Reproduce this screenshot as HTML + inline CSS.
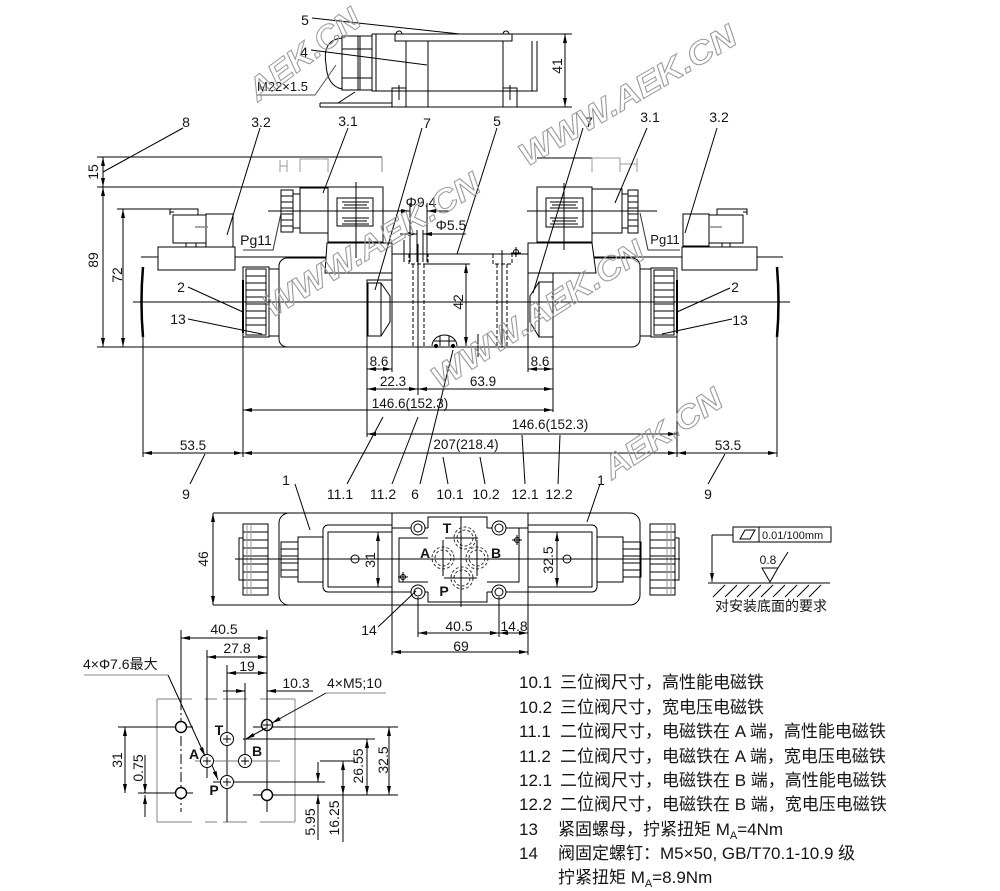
<!DOCTYPE html>
<html><head><meta charset="utf-8">
<style>
html,body{margin:0;padding:0;background:#fff;}
svg{display:block;}
text{font-family:"Liberation Sans","Noto Sans CJK SC",sans-serif;fill:#141414;stroke:none;}
.wm{font-family:"Liberation Sans",sans-serif;font-weight:bold;font-style:italic;fill:none;stroke:#9a9a9a;stroke-width:1;}
</style></head><body>
<svg width="1000" height="891" viewBox="0 0 1000 891" xmlns="http://www.w3.org/2000/svg">
<defs>
<marker id="a" viewBox="0 0 9 4" refX="9" refY="2" markerWidth="9" markerHeight="4" markerUnits="userSpaceOnUse" orient="auto-start-reverse"><path d="M0,0 L9,2 L0,4 z" fill="#000"/></marker>
</defs>

<!-- ================= TOP SMALL VIEW ================= -->
<g stroke="#000" stroke-width="1" fill="none">
<line x1="312" y1="18" x2="497" y2="38"/>
<line x1="311" y1="50" x2="427" y2="65"/>
<rect x="395" y="34" width="117" height="7" fill="#fff"/>
<path d="M396,34 a3,3 0 0 1 6,0 M503,34 a3,3 0 0 1 6,0"/>
<path d="M372,34 H572 M372,34 V91 H537 V41 M376,34 V91 M532,41 V91"/>
<path d="M320,107 H572 M320,103 H392 M320,103 V107"/>
<path d="M406,41 V107 M428,41 V107 M503,41 V107"/>
<rect x="392" y="88" width="14" height="19"/>
<rect x="503" y="88" width="14" height="19"/>
<path d="M399,85 V100 M395,91 H403 M510,85 V100 M506,91 H514"/>
<rect x="342" y="36" width="30" height="54"/>
<path d="M358,36 V90 M360,36 V90 M342,49 H372 M342,78 H372"/>
<path d="M342,38 Q322,40 326,64 Q327,86 342,89"/>
<line x1="355" y1="92" x2="338" y2="103"/>
<line x1="565" y1="34" x2="565" y2="107" marker-start="url(#a)" marker-end="url(#a)"/>
<path d="M257,95 H315 L336,65" stroke="#555"/>
</g>
<text x="305" y="25" font-size="14" text-anchor="middle">5</text>
<text x="304" y="57" font-size="14" text-anchor="middle">4</text>
<text x="257" y="91" font-size="13">M22×1.5</text>
<text transform="translate(562,66) rotate(-90)" font-size="14" text-anchor="middle">41</text>

<!-- ================= SIDE VIEW ================= -->
<g stroke="#000" stroke-width="1" fill="none">
<!-- top reference lines -->
<line x1="97" y1="157" x2="382" y2="157"/>
<line x1="97" y1="187" x2="328" y2="187"/>
<line x1="537" y1="158" x2="592" y2="158"/>
<path d="M382,157 V172" stroke="#888"/>
<path d="M280,172 V160 M280,166 H287 M287,160 V172 M300,172 V159 H328 V172" stroke="#999"/>
<path d="M592,158 V172 M592,158 H620 V172 M620,164 H637 M637,158 V172" stroke="#999"/>
<!-- left dims -->
<line x1="103" y1="157" x2="103" y2="187" marker-start="url(#a)" marker-end="url(#a)"/>
<line x1="103" y1="187" x2="103" y2="347" marker-start="url(#a)" marker-end="url(#a)"/>
<line x1="117" y1="209" x2="170" y2="209"/>
<line x1="123" y1="209" x2="123" y2="347" marker-start="url(#a)" marker-end="url(#a)"/>
<line x1="97" y1="347" x2="290" y2="347"/>
<!-- horizontal line y257 -->
<line x1="141" y1="257" x2="158" y2="257"/>
<line x1="235" y1="257" x2="783" y2="257"/>
<!-- 3.2 left -->
<rect x="158" y="247" width="77" height="23" fill="#fff"/>
<rect x="173" y="215" width="33" height="28" fill="#fff"/>
<rect x="206" y="214" width="27" height="33" fill="#fff"/>
<path d="M186,243 V247 M196,243 V247"/>
<path d="M170,215 V209 H198 V215 M170,212 H174"/>
<path d="M195,227 H208" stroke="#888" stroke-width="1.5"/>
<!-- 3.2 right -->
<rect x="682" y="247" width="75" height="23" fill="#fff"/>
<rect x="683" y="214" width="26" height="32" fill="#fff"/>
<rect x="709" y="215" width="34" height="28" fill="#fff"/>
<path d="M722,243 V247 M730,243 V247"/>
<path d="M717,215 V209 H747 V215 M743,212 H747"/>
<path d="M708,227 H722" stroke="#888" stroke-width="1.5"/>

<!-- left housing -->
<rect x="279" y="258" width="113" height="89" rx="8" fill="#fff"/>
<!-- right housing -->
<rect x="528" y="258" width="112" height="89" rx="8" fill="#fff"/>
<!-- knurled nuts -->
<rect x="269" y="269" width="10" height="67" fill="#fff"/>
<rect x="243" y="267" width="26" height="70" fill="#fff"/>
<rect x="246" y="269" width="20" height="66"/>
<path d="M246,276 H266 M246,283 H266 M246,290 H266 M246,297 H266 M246,304 H266 M246,311 H266 M246,318 H266 M246,325 H266"/>
<line x1="243" y1="280" x2="243" y2="333" stroke-width="2"/>
<rect x="640" y="269" width="11" height="67" fill="#fff"/>
<rect x="651" y="268" width="26" height="69" fill="#fff"/>
<rect x="654" y="270" width="20" height="65"/>
<path d="M654,276 H674 M654,283 H674 M654,290 H674 M654,297 H674 M654,304 H674 M654,311 H674 M654,318 H674 M654,325 H674"/>
<line x1="677" y1="280" x2="677" y2="333" stroke-width="2"/>
<!-- manual overrides -->
<path d="M143,267 Q140,302 143,337" stroke-width="2.5"/>
<path d="M777,267 Q780,302 777,337" stroke-width="2.5"/>

<!-- coils left -->
<rect x="281" y="190" width="12" height="42" fill="#fff"/>
<path d="M281,196 H293 M281,202 H293 M281,208 H293 M281,214 H293 M281,220 H293 M281,226 H293"/>
<rect x="293" y="194" width="7" height="34"/>
<rect x="300" y="188" width="28" height="45" fill="#fff"/>
<rect x="328" y="187" width="55" height="55" fill="#fff"/>
<rect x="337" y="198" width="36" height="28"/>
<path d="M342,202 H369 M344,205 H367 M342,208 H369 M342,218 H369 M344,221 H367 M342,224 H369"/>
<path d="M327,243 H392 V273 H325 Z" fill="#fff"/>
<!-- coils right -->
<rect x="628" y="190" width="10" height="43" fill="#fff"/>
<path d="M628,196 H638 M628,202 H638 M628,208 H638 M628,214 H638 M628,220 H638 M628,226 H638"/>
<rect x="622" y="194" width="6" height="34"/>
<rect x="592" y="189" width="30" height="44" fill="#fff"/>
<rect x="537" y="187" width="55" height="55" fill="#fff"/>
<rect x="546" y="198" width="37" height="29"/>
<path d="M550,202 H578 M552,205 H576 M550,208 H578 M550,218 H578 M552,221 H576 M550,224 H578"/>
<path d="M528,243 H592 L596,273 H528 Z" fill="#fff"/>
<!-- coil center lines -->
<path d="M356,182 V258 M268,211 H400 M564,183 V250 M527,211 H657"/>

<!-- valve body -->
<rect x="392" y="254" width="136" height="93" fill="#fff"/>
<line x1="392" y1="254" x2="520" y2="254"/>
<circle cx="516" cy="252" r="2.5"/>
<path d="M516,247 V257 M511,253 H521"/>
<path d="M409,254 V264 H428 V254 M413,264 V347 M424,264 V347" stroke-dasharray="4,2"/>
<path d="M493,254 V264 H512 V254 M497,264 V347 M507,264 V347" stroke-dasharray="4,2"/>
<path d="M418,244 V395 M502,250 V347"/>
<line x1="427" y1="264" x2="470" y2="264"/>
<line x1="466" y1="264" x2="466" y2="346" marker-start="url(#a)" marker-end="url(#a)"/>
<path d="M432,346 A12.5,11 0 0 1 457,346 M440,336 V346 M449,336 V346 M434,341 H455"/>
<circle cx="436" cy="346" r="1.6" fill="#000"/>
<circle cx="453" cy="346" r="1.6" fill="#000"/>
<line x1="478" y1="334" x2="478" y2="357"/>
<!-- nut plates -->
<rect x="367" y="280" width="25" height="67" fill="#fff"/>
<rect x="368" y="283" width="13" height="53"/>
<path d="M381,283 L390,296 V322 L381,336"/>
<rect x="528" y="273" width="25" height="74" fill="#fff"/>
<rect x="539" y="282" width="14" height="55"/>
<path d="M539,282 L530,296 V322 L539,337"/>
<!-- phi dims -->
<path d="M410,203 V262 M427,203 V262 M417,230 V262 M423,230 V262 M404,240 V262"/>
<line x1="385" y1="211" x2="410" y2="211" marker-end="url(#a)"/>
<line x1="450" y1="211" x2="427" y2="211" marker-end="url(#a)"/>
<line x1="400" y1="234" x2="417" y2="234" marker-end="url(#a)"/>
<line x1="466" y1="234" x2="423" y2="234" marker-end="url(#a)"/>

<!-- center line -->
<line x1="133" y1="302" x2="790" y2="302"/>

<!-- extension lines -->
<path d="M143,337 V457 M243,333 V457 M677,333 V457 M777,337 V457 M367,347 V437 M553,337 V412 M392,347 V372 M528,347 V372"/>
<!-- bottom dims -->
<line x1="367" y1="369" x2="392" y2="369" marker-start="url(#a)" marker-end="url(#a)"/>
<line x1="528" y1="369" x2="553" y2="369" marker-start="url(#a)" marker-end="url(#a)"/>
<line x1="367" y1="389" x2="418" y2="389" marker-start="url(#a)" marker-end="url(#a)"/>
<line x1="418" y1="389" x2="553" y2="389" marker-start="url(#a)" marker-end="url(#a)"/>
<line x1="243" y1="410" x2="553" y2="410" marker-start="url(#a)" marker-end="url(#a)"/>
<line x1="367" y1="434" x2="677" y2="434" marker-start="url(#a)" marker-end="url(#a)"/>
<line x1="243" y1="453" x2="677" y2="453" marker-start="url(#a)" marker-end="url(#a)"/>
<line x1="143" y1="453" x2="243" y2="453" marker-start="url(#a)" marker-end="url(#a)"/>
<line x1="677" y1="453" x2="777" y2="453" marker-start="url(#a)" marker-end="url(#a)"/>

<!-- leaders top -->
<line x1="183" y1="128" x2="103" y2="172"/>
<line x1="260" y1="128" x2="227" y2="235"/>
<line x1="348" y1="128" x2="323" y2="193"/>
<line x1="422" y1="128" x2="375" y2="290"/>
<line x1="497" y1="128" x2="457" y2="254"/>
<line x1="583" y1="128" x2="533" y2="293"/>
<line x1="647" y1="128" x2="615" y2="203"/>
<line x1="717" y1="128" x2="685" y2="233"/>
<path d="M243,250 H273 L281,213" stroke="#333"/>
<path d="M680,250 H648 L640,213" stroke="#333"/>
<line x1="188" y1="287" x2="243" y2="312"/>
<line x1="188" y1="319" x2="262" y2="334"/>
<line x1="730" y1="288" x2="677" y2="312"/>
<line x1="732" y1="319" x2="662" y2="334"/>
<!-- leaders bottom -->
<line x1="190" y1="484" x2="205" y2="454"/>
<line x1="347" y1="484" x2="383" y2="417"/>
<line x1="392" y1="484" x2="418" y2="417"/>
<line x1="420" y1="484" x2="453" y2="350"/>
<line x1="448" y1="484" x2="443" y2="457"/>
<line x1="485" y1="484" x2="480" y2="457"/>
<line x1="525" y1="484" x2="522" y2="435"/>
<line x1="558" y1="484" x2="560" y2="435"/>
<line x1="708" y1="484" x2="725" y2="454"/>
</g>
<g font-size="14" text-anchor="middle">
<text x="186" y="127">8</text>
<text x="261" y="127">3.2</text>
<text x="348" y="126">3.1</text>
<text x="427" y="128">7</text>
<text x="497" y="126">5</text>
<text x="589" y="127">7</text>
<text x="650" y="122">3.1</text>
<text x="719" y="122">3.2</text>
<text x="421" y="207">Φ9.4</text>
<text x="451" y="230">Φ5.5</text>
<text x="256" y="245">Pg11</text>
<text x="665" y="244" font-size="13">Pg11</text>
<text x="181" y="292">2</text>
<text x="178" y="324">13</text>
<text x="735" y="292">2</text>
<text x="740" y="325">13</text>
<text x="379" y="366" font-size="13.5">8.6</text>
<text x="540" y="366" font-size="13.5">8.6</text>
<text x="393" y="386" font-size="13.5">22.3</text>
<text x="483" y="386" font-size="13.5">63.9</text>
<text x="410" y="408" font-size="13.5">146.6(152.3)</text>
<text x="550" y="429" font-size="13.5">146.6(152.3)</text>
<text x="466" y="449" font-size="13.5">207(218.4)</text>
<text x="193" y="450" font-size="13.5">53.5</text>
<text x="728" y="450" font-size="13.5">53.5</text>
<text x="186" y="499">9</text>
<text x="340" y="499">11.1</text>
<text x="383" y="499">11.2</text>
<text x="415" y="499">6</text>
<text x="450" y="499">10.1</text>
<text x="486" y="499">10.2</text>
<text x="525" y="499">12.1</text>
<text x="559" y="499">12.2</text>
<text x="708" y="499">9</text>
<text transform="translate(98,172) rotate(-90)">15</text>
<text transform="translate(98,260) rotate(-90)">89</text>
<text transform="translate(122,275) rotate(-90)">72</text>
<text transform="translate(463,302) rotate(-90)">42</text>
</g>

<!-- ================= FRONT VIEW ================= -->
<g stroke="#000" stroke-width="1" fill="none">
<path d="M213,513 H392 M213,605 H392"/>
<line x1="213" y1="513" x2="213" y2="605" marker-start="url(#a)" marker-end="url(#a)"/>
<path d="M392,513 H289 A10,10 0 0 0 279,523 V595 A10,10 0 0 0 289,605 H392"/>
<path d="M392,525 H328 A5,5 0 0 0 323,530 V587 A5,5 0 0 0 328,592 H392"/>
<path d="M392,532 H328 V587 H392"/>
<line x1="378" y1="532" x2="378" y2="587" marker-start="url(#a)" marker-end="url(#a)"/>
<circle cx="355" cy="559" r="4"/>
<rect x="298" y="537" width="25" height="45"/>
<rect x="281" y="542" width="17" height="35"/>
<path d="M281,549 H298 M281,556 H298 M281,563 H298 M281,570 H298"/>
<rect x="243" y="524" width="25" height="71" fill="#fff"/>
<path d="M243,532 H268 M243,540 H268 M243,548 H268 M243,556 H268 M243,564 H268 M243,572 H268 M243,580 H268 M243,588 H268"/>
<path d="M247,524 V595 M251,524 V595" stroke="#999"/>
<rect x="239" y="538" width="4" height="42"/>

<path d="M528,513 H630 A10,10 0 0 1 640,523 V595 A10,10 0 0 1 630,605 H528"/>
<path d="M528,525 H592 A5,5 0 0 1 597,530 V587 A5,5 0 0 1 592,592 H528"/>
<path d="M528,532 H592 V587 H528"/>
<line x1="557" y1="532" x2="557" y2="587" marker-start="url(#a)" marker-end="url(#a)"/>
<circle cx="567" cy="559" r="4"/>
<rect x="597" y="537" width="26" height="45"/>
<rect x="623" y="542" width="18" height="35"/>
<path d="M623,549 H641 M623,556 H641 M623,563 H641 M623,570 H641"/>
<rect x="650" y="524" width="25" height="71" fill="#fff"/>
<path d="M650,532 H675 M650,540 H675 M650,548 H675 M650,556 H675 M650,564 H675 M650,572 H675 M650,580 H675 M650,588 H675"/>
<path d="M671,524 V595 M667,524 V595" stroke="#999"/>
<rect x="675" y="538" width="4" height="42"/>

<rect x="392" y="513" width="136" height="92" fill="#fff"/>
<path d="M428,528 V517 H487 V528 M487,528 H519 V582 H487 M487,592 V602 H428 V592 M428,582 H399 V538 H428"/>
<path d="M392,528 H428 M487,528 H528 M392,592 H428 M487,592 H528"/>
<circle cx="418" cy="528" r="7" fill="#fff"/><circle cx="418" cy="528" r="4"/>
<circle cx="499" cy="528" r="7" fill="#fff"/><circle cx="499" cy="528" r="4"/>
<circle cx="418" cy="592" r="7" fill="#fff"/><circle cx="418" cy="592" r="4"/>
<circle cx="499" cy="592" r="7" fill="#fff"/><circle cx="499" cy="592" r="4"/>
<g stroke-dasharray="3,2" stroke="#333">
<circle cx="465" cy="538" r="11"/><circle cx="465" cy="538" r="8"/>
<circle cx="443" cy="558" r="11"/><circle cx="443" cy="558" r="8"/>
<circle cx="477" cy="558" r="11"/><circle cx="477" cy="558" r="8"/>
<circle cx="462" cy="578" r="11"/><circle cx="462" cy="578" r="8"/>
</g>
<path d="M461,517 V607 M443,540 V576 M477,540 V576 M445,538 H478 M444,578 H477"/>
<circle cx="403" cy="577" r="2.5"/><path d="M398,577 H408 M403,572 V582"/>
<circle cx="517" cy="540" r="2.5"/><path d="M512,540 H522 M517,535 V545"/>
<line x1="235" y1="559" x2="680" y2="559"/>
<path d="M418,597 V637 M499,597 V637 M392,605 V655 M528,605 V655"/>
<line x1="418" y1="633" x2="499" y2="633" marker-start="url(#a)" marker-end="url(#a)"/>
<line x1="499" y1="633" x2="528" y2="633" marker-start="url(#a)" marker-end="url(#a)"/>
<line x1="392" y1="652" x2="528" y2="652" marker-start="url(#a)" marker-end="url(#a)"/>
<line x1="378" y1="627" x2="416" y2="591"/>
<line x1="295" y1="484" x2="310" y2="530"/>
<line x1="600" y1="484" x2="587" y2="522"/>
</g>
<g font-size="14" text-anchor="middle">
<text x="286" y="485">1</text>
<text x="601" y="485">1</text>
<text transform="translate(208,559) rotate(-90)">46</text>
<text transform="translate(375,560) rotate(-90)">31</text>
<text transform="translate(553,560) rotate(-90)">32.5</text>
<text x="447" y="533" font-weight="bold">T</text>
<text x="425" y="558" font-weight="bold">A</text>
<text x="496" y="558" font-weight="bold">B</text>
<text x="444" y="596" font-weight="bold">P</text>
<text x="369" y="635">14</text>
<text x="459" y="631">40.5</text>
<text x="514" y="631">14.8</text>
<text x="461" y="651">69</text>
</g>

<!-- surface requirement -->
<g stroke="#000" stroke-width="1" fill="none">
<rect x="733" y="527" width="98" height="15"/>
<line x1="759" y1="527" x2="759" y2="542"/>
<path d="M740,539 L745,530 H755 L750,539 Z"/>
<path d="M733,535 H712"/>
<line x1="712" y1="535" x2="712" y2="582" marker-end="url(#a)"/>
<line x1="708" y1="583" x2="830" y2="583"/>
<path d="M713,597 L725,585 M725,597 L737,585 M737,597 L749,585 M749,597 L761,585 M761,597 L773,585 M773,597 L785,585 M785,597 L797,585 M797,597 L809,585 M809,597 L821,585"/>
<path d="M762,568 H778 L770,582 Z M778,568 L788,552"/>
</g>
<text x="762" y="539" font-size="11">0.01/100mm</text>
<text x="768" y="564" font-size="12" text-anchor="middle">0.8</text>
<text x="771" y="611" font-size="14" text-anchor="middle">对安装底面的要求</text>

<!-- ================= MOUNTING PATTERN ================= -->
<g stroke="#000" stroke-width="1" fill="none">
<path d="M157,699 V822 M295,699 V822" stroke="#999" stroke-width="1.2"/>
<path d="M157,699 H192 M205,699 H217 M223,699 H247 M260,699 H295 M157,822 H192 M205,822 H217 M223,822 H247 M260,822 H295" stroke="#999" stroke-width="1.2"/>
<path d="M181,630 V700 M267,630 V812 M207,650 V778 M227,665 V822 M245,683 V765"/>
<path d="M181,700 V812" stroke-dasharray="10,3,2,3"/>
<path d="M118,727 H193 M253,727 H398 M243,739 H375 M320,761 H355 M213,782 H325 M138,793 H193 M253,795 H398"/>
<path d="M195,761 H280" stroke="#777"/>
<circle cx="181" cy="727" r="5.5" stroke-width="1.4" fill="#fff"/>
<circle cx="181" cy="793" r="5.5" stroke-width="1.4" fill="#fff"/>
<circle cx="267" cy="725" r="5.5" stroke-width="1.4" fill="#fff"/>
<circle cx="267" cy="795" r="5.5" stroke-width="1.4" fill="#fff"/>
<circle cx="227" cy="739" r="6.5" fill="#fff"/>
<circle cx="207" cy="761" r="6.5" fill="#fff"/>
<circle cx="245" cy="761" r="6.5" fill="#fff"/>
<circle cx="227" cy="782" r="6.5" fill="#fff"/>
<path d="M227,735 V743 M223,739 H231 M207,757 V765 M203,761 H211 M245,757 V765 M241,761 H249 M227,778 V786 M223,782 H231 M267,721 V729 M263,725 H271"/>
<line x1="181" y1="638" x2="267" y2="638" marker-start="url(#a)" marker-end="url(#a)"/>
<line x1="207" y1="657" x2="267" y2="657" marker-start="url(#a)" marker-end="url(#a)"/>
<line x1="227" y1="673" x2="267" y2="673" marker-start="url(#a)" marker-end="url(#a)"/>
<line x1="223" y1="691" x2="245" y2="691" marker-end="url(#a)"/>
<line x1="313" y1="691" x2="267" y2="691" marker-end="url(#a)"/>
<line x1="125" y1="727" x2="125" y2="793" marker-start="url(#a)" marker-end="url(#a)"/>
<line x1="145" y1="755" x2="145" y2="793" marker-end="url(#a)"/>
<line x1="145" y1="817" x2="145" y2="795" marker-end="url(#a)"/>
<line x1="389" y1="727" x2="389" y2="795" marker-start="url(#a)" marker-end="url(#a)"/>
<line x1="367" y1="739" x2="367" y2="795" marker-start="url(#a)" marker-end="url(#a)"/>
<line x1="343" y1="761" x2="343" y2="795" marker-start="url(#a)" marker-end="url(#a)"/>
<line x1="343" y1="795" x2="343" y2="842"/>
<line x1="318" y1="762" x2="318" y2="782" marker-end="url(#a)"/>
<line x1="318" y1="840" x2="318" y2="795" marker-end="url(#a)"/>
<path d="M84,675 H168" stroke="#888"/>
<line x1="168" y1="675" x2="205" y2="756" marker-end="url(#a)"/>
<line x1="212" y1="765" x2="218" y2="780" marker-end="url(#a)"/>
<path d="M326,693 H386" stroke="#888"/>
<line x1="326" y1="693" x2="272" y2="723" marker-end="url(#a)"/>
<line x1="266" y1="728" x2="246" y2="739" marker-end="url(#a)"/>
</g>
<g font-size="14" text-anchor="middle">
<text x="224" y="634">40.5</text>
<text x="237" y="653">27.8</text>
<text x="247" y="671">19</text>
<text x="296" y="688">10.3</text>
<text x="219" y="735" font-weight="bold">T</text>
<text x="194" y="759" font-weight="bold">A</text>
<text x="257" y="756" font-weight="bold">B</text>
<text x="214" y="795" font-weight="bold">P</text>
<text transform="translate(122,760) rotate(-90)">31</text>
<text transform="translate(143,768) rotate(-90)">0.75</text>
<text transform="translate(388,760) rotate(-90)">32.5</text>
<text transform="translate(363,766) rotate(-90)">26.55</text>
<text transform="translate(339,818) rotate(-90)">16.25</text>
<text transform="translate(315,822) rotate(-90)">5.95</text>
</g>
<text x="83" y="669" font-size="14">4×Φ7.6最大</text>
<text x="327" y="688" font-size="14">4×M5;10</text>

<!-- ================= LEGEND ================= -->
<g font-size="17">
<text x="519" y="688">10.1</text><text x="560" y="688">三位阀尺寸，高性能电磁铁</text>
<text x="519" y="713">10.2</text><text x="560" y="713">三位阀尺寸，宽电压电磁铁</text>
<text x="519" y="737">11.1</text><text x="560" y="737">二位阀尺寸，电磁铁在 A 端，高性能电磁铁</text>
<text x="519" y="762">11.2</text><text x="560" y="762">二位阀尺寸，电磁铁在 A 端，宽电压电磁铁</text>
<text x="519" y="786">12.1</text><text x="560" y="786">二位阀尺寸，电磁铁在 B 端，高性能电磁铁</text>
<text x="519" y="810">12.2</text><text x="560" y="810">二位阀尺寸，电磁铁在 B 端，宽电压电磁铁</text>
<text x="519" y="835">13</text><text x="558" y="835">紧固螺母，拧紧扭矩 M<tspan font-size="11" dy="4">A</tspan><tspan dy="-4">=4Nm</tspan></text>
<text x="519" y="859">14</text><text x="558" y="859">阀固定螺钉：M5×50, GB/T70.1-10.9 级</text>
<text x="558" y="883">拧紧扭矩 M<tspan font-size="11" dy="4">A</tspan><tspan dy="-4">=8.9Nm</tspan></text>
</g>

<!-- ================= WATERMARKS ================= -->
<text class="wm" font-size="32" transform="translate(258,102) rotate(-36.6)" textLength="131" lengthAdjust="spacingAndGlyphs">AEK.CN</text>
<text class="wm" font-size="32" transform="translate(527,167) rotate(-30.4)" textLength="246" lengthAdjust="spacingAndGlyphs">WWW.AEK.CN</text>
<text class="wm" font-size="32" transform="translate(272,318) rotate(-31.2)" textLength="247" lengthAdjust="spacingAndGlyphs">WWW.AEK.CN</text>
<text class="wm" font-size="32" transform="translate(440,390) rotate(-32.7)" textLength="246" lengthAdjust="spacingAndGlyphs">WWW.AEK.CN</text>
<text class="wm" font-size="32" transform="translate(612,480) rotate(-33.6)" textLength="136" lengthAdjust="spacingAndGlyphs">AEK.CN</text>
</svg>
</body></html>
